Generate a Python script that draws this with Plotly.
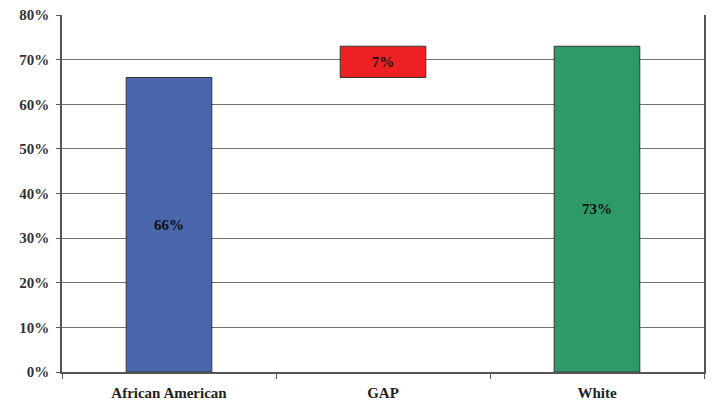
import plotly.graph_objects as go

categories = ["African American", "GAP", "White"]
values = [66, 7, 73]
bases = [0, 66, 0]
labels = ["66%", "7%", "73%"]
colors = ["#4A66AC", "#EE2024", "#2E9A68"]
y_ticks = [0, 10, 20, 30, 40, 50, 60, 70, 80]
y_tick_labels = [f"{v}%" for v in y_ticks]

serif = "Liberation Serif, Times New Roman, serif"

fig = go.Figure(go.Bar(
    x=categories, y=values, base=bases,
    marker=dict(color=colors, line=dict(color="#333333", width=1)),
    width=0.4,
    text=labels, textposition="inside", insidetextanchor="middle",
    textfont=dict(family=serif, size=15, color="#111111", weight="bold"),
    textangle=0,
))

fig.update_layout(
    width=713, height=406,
    margin=dict(l=62, r=9, t=15, b=34, autoexpand=False),
    paper_bgcolor="white", plot_bgcolor="white",
    showlegend=False,
    xaxis=dict(
        automargin=False,
        showline=True, linecolor="#555555", linewidth=1.5,
        ticks="outside", ticklen=5, tickcolor="#555555", tickson="boundaries",
        ticklabelstandoff=6,
        tickfont=dict(family=serif, size=15, color="#222222", weight="bold"),
        mirror=False, showgrid=False,
    ),
    yaxis=dict(
        automargin=False,
        range=[0, 80], tickvals=y_ticks, ticktext=y_tick_labels,
        showline=True, linecolor="#555555", linewidth=1.5, mirror=True,
        ticks="outside", ticklen=4, tickcolor="#555555",
        ticklabelstandoff=4,
        showgrid=True, gridcolor="#707070", gridwidth=1.3,
        zeroline=False,
        tickfont=dict(family=serif, size=15, color="#333333", weight="bold"),
    ),
)

fig.write_html(
    "out.html",
    config={"displayModeBar": False},
    post_script="document.body.style.margin='0';document.body.style.overflow='hidden';",
)
